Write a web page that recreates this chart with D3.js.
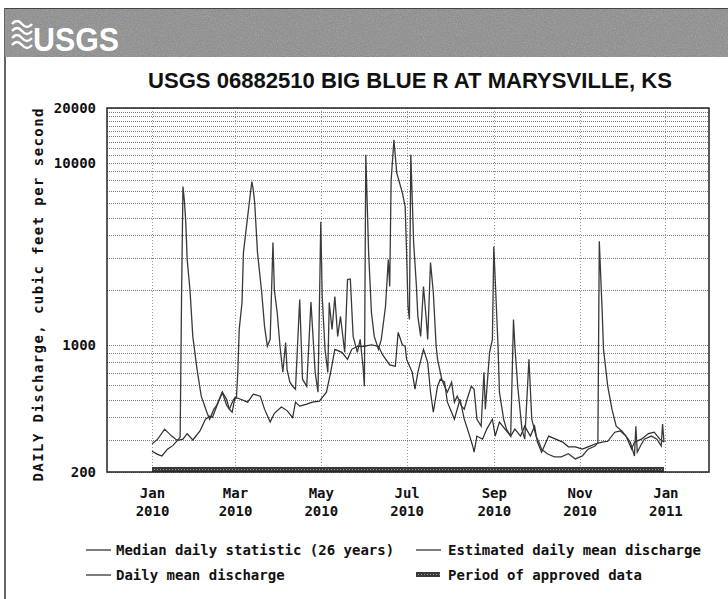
<!DOCTYPE html>
<html>
<head>
<meta charset="utf-8">
<script src="https://cdn.jsdelivr.net/npm/d3@7"></script>
<style>
  body { margin: 0; background: #fff; }
  svg { display: block; }
  .mono { font-family: "DejaVu Sans Mono", monospace; font-weight: bold; fill: #111; }
</style>
</head>
<body>
<svg id="chart" width="728" height="599"></svg>
<script>
// days since 2010-01-01
const meanDays = [0, 4, 9, 14, 18, 20, 21, 22, 23, 24, 25, 27, 29, 32, 35, 39, 41, 44, 46, 50,
  53, 55, 58, 60, 61, 62, 64, 65, 68, 70, 71, 72, 73, 75, 78, 80, 82, 84, 86, 87,
  89, 91, 93, 95, 96, 98, 100, 102, 105, 107, 110, 113, 116, 118, 120, 121, 123, 125, 126, 128,
  130, 132, 134, 137, 139, 141, 143, 146, 148, 150, 151, 152, 154, 156, 158, 161, 163, 166, 168, 169,
  170, 172, 174, 178, 180, 181, 182, 183, 184, 186, 188, 189, 191, 193, 195, 196, 198, 200, 202, 203,
  206, 208, 210, 213, 215, 217, 220, 222, 224, 227, 229, 231, 234, 236, 237, 240, 242, 243, 245, 246,
  247, 250, 252, 255, 257, 258, 260, 263, 265, 268, 270, 273, 275, 277, 281, 286, 291, 296, 301, 306,
  310, 315, 317, 318, 320, 321, 324, 327, 330, 334, 337, 340, 343, 344, 345, 348, 350, 355, 359, 362,
  363, 364];
const meanFlow = [285, 303, 344, 315, 298, 310, 1800, 7400, 6200, 4750, 2940, 2000, 1112, 733, 522, 426, 390, 443, 465, 549,
  465, 443, 502, 510, 706, 1215, 1708, 3210, 5058, 6842, 7893, 7100, 6033, 3210, 1938, 1262, 981, 1071, 3650, 2000,
  1505, 981, 706, 1030, 733, 623, 592, 570, 1774, 647, 592, 1720, 706, 549, 4746, 1843, 944, 706, 1708, 1215,
  1843, 1112, 1431, 909, 2283, 2300, 1112, 909, 1071, 762, 592, 11055, 3210, 1505, 1112, 944, 1071, 1624, 2939, 2090,
  8000, 13360, 8810, 6842, 5736, 3210, 1624, 1378, 11055, 3650, 2090, 1431, 1112, 2090, 1378, 1071, 2830, 1938, 981, 832,
  647, 592, 549, 623, 484, 522, 460, 443, 502, 592, 570, 390, 357, 706, 443, 909, 1071, 3463, 1505, 981,
  549, 390, 344, 315, 1378, 981, 592, 344, 303, 832, 390, 315, 292, 267, 252, 242, 242, 252, 236, 245,
  267, 278, 290, 3700, 1564, 944, 592, 443, 357, 336, 315, 292, 245, 357, 257, 285, 303, 315, 303, 278,
  367, 292];

const medianDays = [0, 4, 7, 11, 15, 18, 22, 25, 29, 34, 38, 41, 43, 46, 50, 53, 55, 57, 59, 63,
  68, 72, 77, 80, 84, 87, 92, 96, 100, 102, 105, 110, 114, 119, 124, 127, 130, 135, 139, 142,
  146, 151, 156, 161, 164, 169, 173, 175, 178, 180, 181, 185, 187, 189, 193, 196, 198, 200, 203, 205,
  208, 210, 213, 215, 219, 222, 225, 228, 229, 231, 235, 238, 242, 244, 247, 251, 255, 258, 262, 265,
  269, 272, 274, 277, 282, 287, 292, 296, 301, 306, 310, 315, 320, 324, 329, 333, 337, 341, 343, 348,
  353, 357, 361, 364];
const medianFlow = [260, 250, 245, 267, 280, 298, 303, 325, 300, 335, 390, 405, 400, 460, 549, 502, 443, 426, 515, 502,
  484, 535, 522, 443, 376, 420, 455, 435, 398, 484, 460, 472, 484, 490, 549, 706, 944, 909, 832, 944,
  981, 981, 1000, 981, 880, 775, 762, 1170, 1000, 981, 832, 706, 570, 706, 944, 801, 549, 426, 592, 647,
  623, 484, 426, 390, 502, 390, 331, 278, 257, 315, 303, 344, 390, 315, 376, 344, 315, 344, 315, 357,
  315, 357, 292, 257, 315, 303, 292, 275, 275, 267, 275, 285, 292, 295, 331, 336, 315, 267, 292, 303,
  325, 331, 303, 292];

const approvedPeriod = ["2010-01-01", "2010-12-31"];
const yTickValues = [200, 1000, 10000, 20000];
const xTickDates = ["2010-01-01", "2010-03-01", "2010-05-01", "2010-07-01", "2010-09-01", "2010-11-01", "2011-01-01"];
const legendItems = [
  { label: "Median daily statistic (26 years)", kind: "line", col: 0, row: 0 },
  { label: "Estimated daily mean discharge", kind: "line", col: 1, row: 0 },
  { label: "Daily mean discharge", kind: "line", col: 0, row: 1 },
  { label: "Period of approved data", kind: "bar", col: 1, row: 1 }
];

const svg = d3.select("#chart");
const parse = d3.utcParse("%Y-%m-%d");
const start = parse("2010-01-01");
const dayToDate = (d) => d3.utcDay.offset(start, d);

const x = d3.scaleUtc().domain([parse("2009-11-30"), parse("2011-02-01")]).range([107, 709]);
const y = d3.scaleLog().domain([200, 20000]).range([472, 108]);

const defs = svg.append("defs");
const grain = defs.append("filter").attr("id", "grain").attr("x", 0).attr("y", 0).attr("width", 1).attr("height", 1);
grain.append("feTurbulence").attr("type", "fractalNoise").attr("baseFrequency", 0.85).attr("numOctaves", 2).attr("seed", 4);
grain.append("feColorMatrix").attr("type", "saturate").attr("values", 0);

const hatch = defs.append("pattern").attr("id", "hatch").attr("patternUnits", "userSpaceOnUse")
  .attr("width", 3).attr("height", 3);
hatch.append("rect").attr("width", 3).attr("height", 3).attr("fill", "#3a3a3a");
hatch.append("rect").attr("x", 1).attr("y", 1).attr("width", 1).attr("height", 1).attr("fill", "#9a9a9a");

// page frame + banner
svg.append("line").attr("x1", 5).attr("x2", 5).attr("y1", 8).attr("y2", 599)
  .attr("stroke", "#333").attr("stroke-width", 1.5);
svg.append("rect").attr("x", 5).attr("y", 8).attr("width", 723).attr("height", 49).attr("fill", "#8a8a8a");
svg.append("rect").attr("x", 5).attr("y", 8).attr("width", 723).attr("height", 49)
  .attr("filter", "url(#grain)").attr("opacity", 0.45);
svg.append("line").attr("x1", 5).attr("x2", 728).attr("y1", 8.5).attr("y2", 8.5).attr("stroke", "#444");

const logo = svg.append("g").attr("fill", "none").attr("stroke", "#fff").attr("stroke-width", 2.4);
[24, 31, 38, 45].forEach((yy) => {
  logo.append("path").attr("d", `M12,${yy} q5,-6 10,0 t10,0`);
});
svg.append("text").attr("x", 33).attr("y", 51)
  .attr("font-family", "Liberation Sans Narrow, Arial Narrow, sans-serif").attr("font-weight", "bold")
  .attr("font-size", 34).attr("fill", "#fff").attr("textLength", 86).attr("lengthAdjust", "spacingAndGlyphs")
  .text("USGS");

// title
svg.append("text").attr("x", 410).attr("y", 88).attr("text-anchor", "middle")
  .attr("font-family", "Liberation Sans Narrow, Arial Narrow, sans-serif").attr("font-weight", "bold")
  .attr("font-size", 22).attr("fill", "#111").attr("textLength", 524).attr("lengthAdjust", "spacingAndGlyphs")
  .text("USGS 06882510 BIG BLUE R AT MARYSVILLE, KS");

// grid
const minor = [];
for (let v = 200; v < 1000; v += 100) minor.push(v);
for (let v = 1000; v <= 20000; v += 1000) minor.push(v);
svg.append("g").selectAll("line").data(minor).join("line")
  .attr("x1", 107).attr("x2", 709).attr("y1", (d) => Math.round(y(d)) + 0.5).attr("y2", (d) => Math.round(y(d)) + 0.5)
  .attr("stroke", "#7a7a7a").attr("stroke-dasharray", "1,1");
svg.append("g").selectAll("line").data(xTickDates.map(parse)).join("line")
  .attr("x1", (d) => Math.round(x(d)) + 0.5).attr("x2", (d) => Math.round(x(d)) + 0.5)
  .attr("y1", 108).attr("y2", 472)
  .attr("stroke", "#999").attr("stroke-dasharray", "1,2");

// approved period bar
svg.append("rect")
  .attr("x", x(parse(approvedPeriod[0]))).attr("y", 467)
  .attr("width", x(parse(approvedPeriod[1])) - x(parse(approvedPeriod[0])))
  .attr("height", 5).attr("fill", "url(#hatch)");

// series
const line = d3.line().x((d) => x(d[0])).y((d) => y(d[1]));
svg.append("path").datum(medianDays.map((d, i) => [dayToDate(d), medianFlow[i]]))
  .attr("d", line).attr("fill", "none").attr("stroke", "#2b2b2b").attr("stroke-width", 1.2);
svg.append("path").datum(meanDays.map((d, i) => [dayToDate(d), meanFlow[i]]))
  .attr("d", line).attr("fill", "none").attr("stroke", "#3a3a3a").attr("stroke-width", 1.3);

// plot frame
svg.append("rect").attr("x", 107).attr("y", 108).attr("width", 602).attr("height", 364)
  .attr("fill", "none").attr("stroke", "#222").attr("stroke-width", 1.5);

// axes
const yAxis = d3.axisLeft(y).tickValues(yTickValues).tickSize(0).tickPadding(11).tickFormat(d3.format("d"));
svg.append("g").attr("transform", "translate(107,0)").call(yAxis)
  .call((g) => g.select(".domain").remove())
  .selectAll("text").attr("class", "mono").attr("font-size", 14).attr("dy", "0.35em");

const xAxis = d3.axisBottom(x).tickValues(xTickDates.map(parse)).tickSize(0).tickFormat("");
const xg = svg.append("g").attr("transform", "translate(0,472)").call(xAxis);
xg.select(".domain").remove();
xg.selectAll(".tick").each(function(d) {
  const t = d3.select(this);
  t.append("text").attr("class", "mono").attr("font-size", 14).attr("text-anchor", "middle")
    .attr("y", 26).text(d3.utcFormat("%b")(d));
  t.append("text").attr("class", "mono").attr("font-size", 14).attr("text-anchor", "middle")
    .attr("y", 44).text(d3.utcFormat("%Y")(d));
});

svg.append("text").attr("class", "mono").attr("font-size", 14)
  .attr("transform", "translate(43,295) rotate(-90)").attr("text-anchor", "middle")
  .attr("textLength", 373).attr("lengthAdjust", "spacing")
  .text("DAILY Discharge, cubic feet per second");

// legend
const lg = svg.append("g");
legendItems.forEach((item) => {
  const lx = item.col === 0 ? 86 : 416;
  const ly = 550 + item.row * 25;
  if (item.kind === "line") {
    lg.append("line").attr("x1", lx).attr("x2", lx + 25).attr("y1", ly).attr("y2", ly)
      .attr("stroke", "#222").attr("stroke-width", 1.2);
  } else {
    lg.append("rect").attr("x", lx).attr("y", ly - 3).attr("width", 24).attr("height", 5).attr("fill", "url(#hatch)");
  }
  lg.append("text").attr("class", "mono").attr("font-size", 14).attr("x", item.col === 0 ? 116 : 448)
    .attr("y", ly + 5).text(item.label);
});
</script>
</body>
</html>
